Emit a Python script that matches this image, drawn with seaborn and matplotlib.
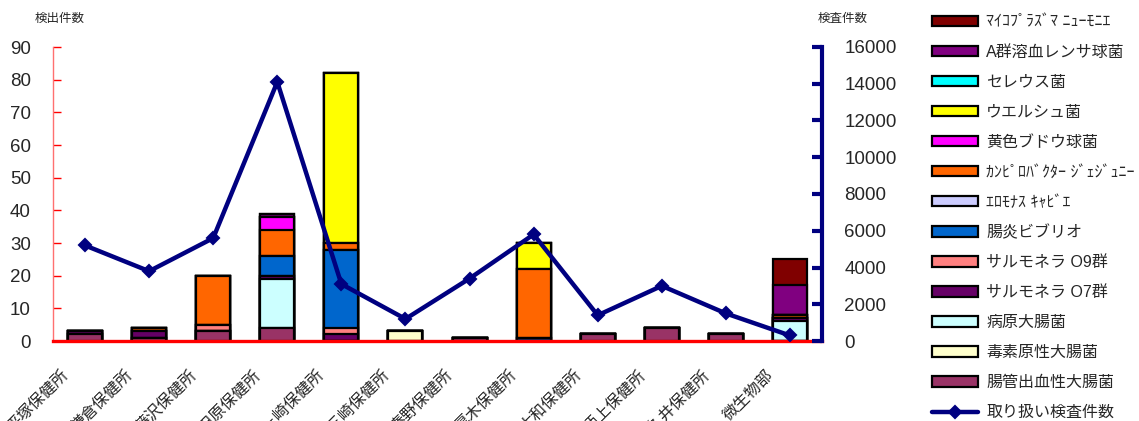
import numpy as np
import matplotlib
matplotlib.use("Agg")
import matplotlib.pyplot as plt
import matplotlib.transforms as mtransforms
from matplotlib.patches import Patch
from matplotlib.lines import Line2D
from matplotlib.ticker import FixedLocator
import seaborn as sns

# ---- data -------------------------------------------------------------
offices = ["平塚保健所", "鎌倉保健所", "藤沢保健所", "小田原保健所", "茅ヶ崎保健所", "三崎保健所",
           "秦野保健所", "厚木保健所", "大和保健所", "足柄上保健所", "津久井保健所", "微生物部"]

# detections per pathogen, listed from the bottom of each stack upward
ehec          = [2, 1, 3, 4, 0, 0, 1, 0, 2, 4, 2, 0]
etec          = [0, 0, 0, 0, 0, 3, 0, 0, 0, 0, 0, 0]
epec          = [0, 0, 0, 15, 0, 0, 0, 0, 0, 0, 0, 6]
salmonella_o7 = [1, 2, 0, 1, 2, 0, 0, 0, 0, 0, 0, 1]
salmonella_o9 = [0, 0, 2, 0, 2, 0, 0, 0, 0, 0, 0, 0]
vibrio        = [0, 0, 0, 6, 24, 0, 0, 1, 0, 0, 0, 0]
aeromonas     = [0, 0, 0, 0, 0, 0, 0, 0, 0, 0, 0, 0]
campylobacter = [0, 1, 15, 8, 2, 0, 0, 21, 0, 0, 0, 1]
staph_aureus  = [0, 0, 0, 4, 0, 0, 0, 0, 0, 0, 0, 0]
perfringens   = [0, 0, 0, 0, 52, 0, 0, 8, 0, 0, 0, 0]
cereus        = [0, 0, 0, 0, 0, 0, 0, 0, 0, 0, 0, 0]
strep_a       = [0, 0, 0, 1, 0, 0, 0, 0, 0, 0, 0, 9]
mycoplasma    = [0, 0, 0, 0, 0, 0, 0, 0, 0, 0, 0, 8]

# number of samples handled (right axis)
tests = [5200, 3800, 5600, 14100, 3100, 1200, 3400, 5800, 1400, 3000, 1500, 300]

series_labels = ["腸管出血性大腸菌", "毒素原性大腸菌", "病原大腸菌", "サルモネラ O7群", "サルモネラ O9群",
                 "腸炎ビブリオ", "ｴﾛﾓﾅｽ ｷｬﾋﾞｴ", "ｶﾝﾋﾟﾛﾊﾞｸﾀｰ ｼﾞｪｼﾞｭﾆｰ", "黄色ブドウ球菌",
                 "ウエルシュ菌", "セレウス菌", "A群溶血レンサ球菌", "ﾏｲｺﾌﾟﾗｽﾞﾏ ﾆｭｰﾓﾆｴ"]
series_values = [ehec, etec, epec, salmonella_o7, salmonella_o9, vibrio, aeromonas,
                 campylobacter, staph_aureus, perfringens, cereus, strep_a, mycoplasma]
series_colors = ["#993366", "#FFFFCC", "#CCFFFF", "#660066", "#FF8080", "#0066CC", "#CCCCFF",
                 "#FF6600", "#FF00FF", "#FFFF00", "#00FFFF", "#800080", "#800000"]
line_label = "取り扱い検査件数"

# ---- style ------------------------------------------------------------
sns.set_style("white")
plt.rcParams["font.family"] = ["Liberation Sans", "Noto Sans CJK JP"]
NAVY = "#000080"
RED = "#FF0000"

W, H = 1139, 421
fig = plt.figure(figsize=(W / 100, H / 100), dpi=100)
ax = fig.add_axes([53 / W, 80 / H, 769 / W, 294 / H])

# stacked bars: draw running totals from the top layer down
tops = np.cumsum(np.array(series_values, dtype=float), axis=0)
for k in range(len(series_values) - 1, -1, -1):
    sns.barplot(x=offices, y=tops[k], order=offices, color=series_colors[k], saturation=1,
                width=0.53, edgecolor="black", linewidth=1.6, errorbar=None, ax=ax)

ax.set_ylim(0, 90)
ax.yaxis.set_major_locator(FixedLocator(np.arange(0, 91, 10)))
ax.set_xlabel("")
ax.set_ylabel("")
for s in ("top", "right"):
    ax.spines[s].set_visible(False)
ax.spines["left"].set_color("#FF7070")
ax.spines["left"].set_linewidth(1.0)
ax.spines["bottom"].set_color(RED)
ax.spines["bottom"].set_linewidth(2.4)
ax.spines["bottom"].set_zorder(6)
ax.tick_params(axis="y", direction="in", length=6, width=1, color=RED, pad=16,
               labelsize=13.5)

# secondary axis with the sample counts
ax2 = ax.twinx()
pos = np.arange(len(offices))
sns.lineplot(x=pos, y=tests, ax=ax2, color=NAVY, linewidth=3.2, marker="D",
             markersize=6.5, markeredgewidth=1.5, markeredgecolor=NAVY,
             markerfacecolor=NAVY, zorder=5)
ax2.set_ylim(0, 16000)
ax2.yaxis.set_major_locator(FixedLocator(np.arange(0, 16001, 2000)))
ax2.set_ylabel("")
for s in ("top", "left", "bottom"):
    ax2.spines[s].set_visible(False)
ax2.spines["right"].set_color(NAVY)
ax2.spines["right"].set_linewidth(3)
ax2.tick_params(axis="y", direction="in", length=7, width=3, color=NAVY, pad=16,
                labelsize=13.5)

# category axis: labels at centres, tick marks at the boundaries
ax.set_xlim(-0.5, len(offices) - 0.5)
ax.set_xticks(pos)
ax.set_xticklabels(offices, rotation=45, ha="right", va="center",
                   rotation_mode="anchor", fontsize=11.5)
ax.xaxis.set_minor_locator(FixedLocator(np.arange(-0.5, len(offices), 1.0)))
ax.tick_params(axis="x", which="major", length=0, pad=0)
ax.tick_params(axis="x", which="minor", direction="in", length=6, width=1.5, color=RED)
shift = mtransforms.ScaledTranslation(-19 / 100, -32 / 100, fig.dpi_scale_trans)
for lab in ax.get_xticklabels():
    lab.set_transform(lab.get_transform() + shift)

# axis titles
fig.text(60 / W, 1 - 19 / H, "検出件数", ha="center", va="center", fontsize=9)
fig.text(843 / W, 1 - 19 / H, "検査件数", ha="center", va="center", fontsize=9)

# legend, top entry first
handles = [Patch(facecolor=c, edgecolor="black", linewidth=1.6)
           for c in series_colors[::-1]]
handles.append(Line2D([], [], color=NAVY, linewidth=3.2, marker="D", markersize=6.5,
                      markeredgewidth=1.5, markeredgecolor=NAVY, markerfacecolor=NAVY))
labels = series_labels[::-1] + [line_label]
fig.legend(handles, labels, loc="upper left", bbox_to_anchor=(932 / W, 1 - 14.5 / H),
           frameon=False, fontsize=11.5, handlelength=2.9, handleheight=0.62,
           handletextpad=0.5, labelspacing=0.94, borderpad=0, borderaxespad=0)

fig.savefig("out.png", dpi=100)
